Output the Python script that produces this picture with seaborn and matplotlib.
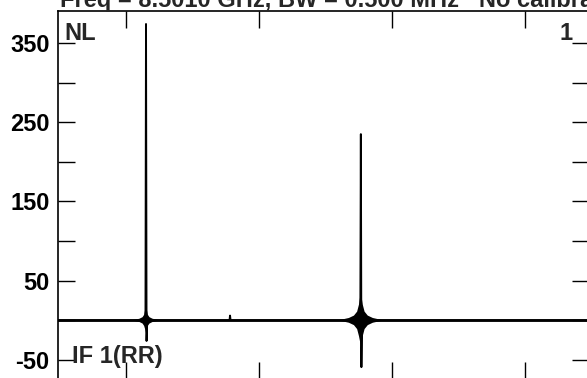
import matplotlib
matplotlib.use("Agg")
import numpy as np
import pandas as pd
import matplotlib.pyplot as plt
import seaborn as sns

# spectrum (channel, amplitude)
chan = [24.4, 40.0, 57.3, 57.5, 57.7, 57.9, 88.9, 89.1, 89.3, 138.1, 138.3, 138.5, 138.7, 224.1]
amp = [0.0, 0.0, 0.0, 374.0, -26.0, 0.0, 0.0, 6.0, 0.0, 0.0, 235.0, -59.0, 0.0, 0.0]

# outline of the ringing "star" around each spike (offsets from spike)
star1_dx = [5.6, 2.5, 1.3, 0.7, 0.35, 0.0, -0.35, -0.7, -1.3, -2.5, -5.6, -2.5, -1.3, -0.7, -0.35, 0.0, 0.35, 0.7, 1.3, 2.5]
star1_dy = [0, 2, 4, 7, 13, 20, 13, 7, 4, 2, 0, -2, -4, -7, -11, -16, -11, -7, -4, -2]
star2_dx = [8.5, 4.5, 2.6, 1.4, 0.7, 0.0, -0.7, -1.4, -2.6, -4.5, -8.5, -4.5, -2.6, -1.4, -0.7, 0.0, 0.7, 1.4, 2.6, 4.5]
star2_dy = [0, 3, 6, 11, 20, 36, 20, 11, 6, 3, 0, -3, -6, -11, -20, -32, -20, -11, -6, -3]
spike_pos = [57.5, 138.3]

ytick_vals = [-50, 0, 50, 100, 150, 200, 250, 300, 350]
ytick_labels = ["-50", "", "50", "", "150", "", "250", "", "350"]
xtick_vals = [50, 100, 150, 200]

title = "Freq = 8.5010 GHz, BW = 0.500 MHz   No calibration applied"

sns.set_style("ticks")
plt.rcParams["font.family"] = ["Liberation Sans", "DejaVu Sans"]
plt.rcParams["font.weight"] = "bold"

fig = plt.figure(figsize=(5.87, 3.78), dpi=100)
ax = fig.add_axes([58 / 587, -1 / 378, 531 / 587, 368 / 378])

df = pd.DataFrame({"chan": chan, "amp": amp})
sns.lineplot(data=df, x="chan", y="amp", color="black", linewidth=1.4, ax=ax)
ax.axhline(0, color="black", linewidth=2.0, zorder=1)

for pos, dx, dy in [(spike_pos[0], star1_dx, star1_dy), (spike_pos[1], star2_dx, star2_dy)]:
    ax.fill(np.array(dx) + pos, dy, color="black", linewidth=0)

ax.set_xlim(24.4, 224.1)
ax.set_ylim(-74, 390.4)
ax.set_yticks(ytick_vals)
ax.set_yticklabels(ytick_labels)
ax.set_xticks(xtick_vals)
ax.set_xticklabels([])
ax.set_xlabel("")
ax.set_ylabel("")
ax.tick_params(direction="in", length=12, width=1, top=True, right=True,
               labelsize=17, pad=6, colors="black")
for s in ax.spines.values():
    s.set_linewidth(1.2)
    s.set_color("black")

ax.text(0.012, 0.97, "NL", transform=ax.transAxes, fontsize=17,
        fontweight="bold", va="top", ha="left")
ax.text(0.97, 0.97, "1", transform=ax.transAxes, fontsize=17,
        fontweight="bold", va="top", ha="right")
ax.text(0.027, 0.092, "IF 1(RR)", transform=ax.transAxes, fontsize=17,
        fontweight="bold", va="top", ha="left")

fig.text(60 / 587, 1 - 7 / 378, title, fontsize=17, fontweight="bold",
         va="baseline", ha="left")

fig.savefig("out.png", dpi=100)
